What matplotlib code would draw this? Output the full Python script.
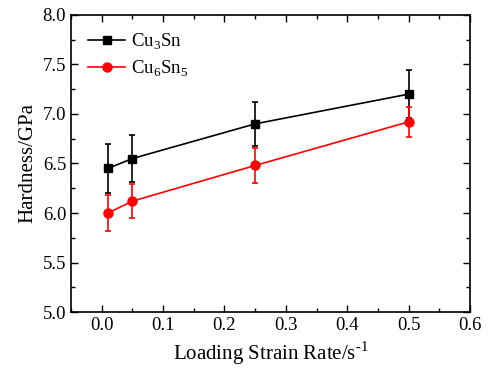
import numpy as np
import matplotlib
matplotlib.use("Agg")
import matplotlib.pyplot as plt
from matplotlib.ticker import MultipleLocator
from matplotlib.lines import Line2D

plt.rcParams['font.family'] = ['Liberation Serif', 'DejaVu Serif']
plt.rcParams['mathtext.fontset'] = 'custom'
plt.rcParams['mathtext.rm'] = 'Liberation Serif'

rate = [0.01, 0.05, 0.25, 0.5]
cu3sn = [6.45, 6.55, 6.90, 7.20]
cu3sn_err = [0.25, 0.24, 0.22, 0.24]
cu6sn5 = [6.00, 6.12, 6.48, 6.92]
cu6sn5_err = [0.18, 0.17, 0.18, 0.15]

fig = plt.figure(figsize=(4.9, 3.72), dpi=100)
ax = fig.add_axes([0.145, 0.161, 0.814, 0.799])

ax.errorbar(rate, cu3sn, yerr=cu3sn_err, color='black', marker='s', ms=5.5,
            lw=1.2, capsize=2.5, elinewidth=1.2, capthick=1.2)
ax.errorbar(rate, cu6sn5, yerr=cu6sn5_err, color='red', marker='o', ms=6.5,
            lw=1.2, capsize=2.5, elinewidth=1.2, capthick=1.2)

ax.set_xlim(-0.05, 0.6)
ax.set_ylim(5.0, 8.0)
ax.xaxis.set_major_locator(MultipleLocator(0.1))
ax.xaxis.set_minor_locator(MultipleLocator(0.05))
ax.yaxis.set_major_locator(MultipleLocator(0.5))
ax.yaxis.set_minor_locator(MultipleLocator(0.25))
ax.xaxis.set_major_formatter(plt.FormatStrFormatter('%.1f'))
ax.yaxis.set_major_formatter(plt.FormatStrFormatter('%.1f'))
ax.tick_params(which='both', direction='in', top=True, right=True,
               labelsize=13.5, width=1.0)
ax.tick_params(which='major', length=5)
ax.tick_params(which='minor', length=3)
for s in ax.spines.values():
    s.set_linewidth(1.2)

ax.set_xlabel(r'Loading Strain Rate/s$^{\text{-1}}$', fontsize=15)
ax.set_ylabel('Hardness/GPa', fontsize=15)

handles = [Line2D([], [], color='black', marker='s', ms=5.5, lw=1.2),
           Line2D([], [], color='red', marker='o', ms=6.5, lw=1.2)]
ax.legend(handles, [r'Cu$_3$Sn', r'Cu$_6$Sn$_5$'], loc='upper left',
          frameon=False, fontsize=13.5, handlelength=2.0, handletextpad=0.3,
          borderaxespad=0.5, labelspacing=0.35)

fig.savefig('out.png', dpi=100)
